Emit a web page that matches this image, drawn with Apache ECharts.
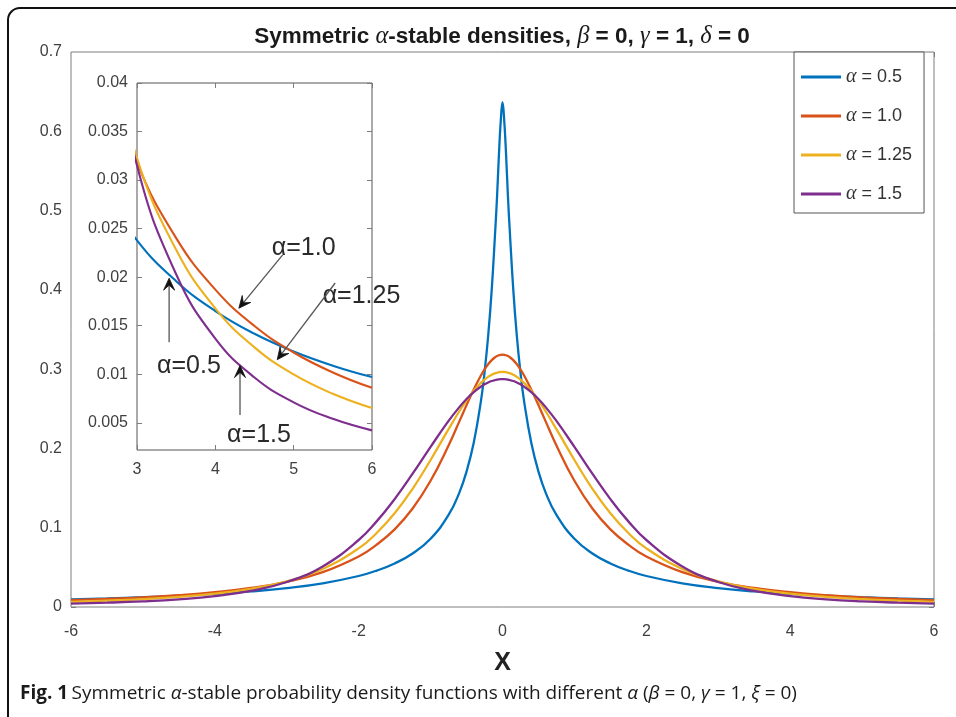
<!DOCTYPE html>
<html>
<head>
<meta charset="utf-8">
<script src="https://cdn.jsdelivr.net/npm/echarts@6/dist/echarts.min.js"></script>
<style>
  html, body { margin: 0; padding: 0; background: #ffffff; }
  #chart { width: 956px; height: 717px; }
</style>
</head>
<body>
<div id="chart"></div>
<script>
// Sample points along x (shared by every density curve)
const X_GRID = [-6, -5.5, -5, -4.5, -4, -3.5, -3, -2.5, -2, -1.75, -1.5, -1.25, -1, -0.75, -0.6, -0.5, -0.4, -0.3, -0.25, -0.2, -0.15, -0.1, -0.075, -0.05, -0.025,
  0, 0.025, 0.05, 0.075, 0.1, 0.15, 0.2, 0.25, 0.3, 0.4, 0.5, 0.6, 0.75, 1, 1.25, 1.5, 1.75, 2, 2.5, 3, 3.5, 4, 4.5, 5, 5.5, 6];

// Density values for each characteristic exponent alpha
const DENSITY_A05 = [0.00971, 0.01089, 0.01235, 0.01417, 0.01651, 0.01959, 0.02380, 0.02985, 0.0391, 0.0459, 0.0549, 0.0675, 0.0861, 0.1161, 0.1443, 0.1708, 0.2071, 0.2597, 0.2957, 0.3412, 0.4000, 0.4765, 0.519, 0.570, 0.612,
  0.6366, 0.612, 0.570, 0.519, 0.4765, 0.4000, 0.3412, 0.2957, 0.2597, 0.2071, 0.1708, 0.1443, 0.1161, 0.0861, 0.0675, 0.0549, 0.0459, 0.0391, 0.02985, 0.02380, 0.01959, 0.01651, 0.01417, 0.01235, 0.01089, 0.00971];
const DENSITY_A10 = [0.00860, 0.01019, 0.01224, 0.01497, 0.01872, 0.02402, 0.03183, 0.04390, 0.0637, 0.0786, 0.0979, 0.1242, 0.1592, 0.2037, 0.2341, 0.2546, 0.2744, 0.2920, 0.2996, 0.3061, 0.3113, 0.3152, 0.3165, 0.3175, 0.3181,
  0.3183, 0.3181, 0.3175, 0.3165, 0.3152, 0.3113, 0.3061, 0.2996, 0.2920, 0.2744, 0.2546, 0.2341, 0.2037, 0.1592, 0.1242, 0.0979, 0.0786, 0.0637, 0.04390, 0.03183, 0.02402, 0.01872, 0.01497, 0.01224, 0.01019, 0.00860];
const DENSITY_A125 = [0.00652, 0.00799, 0.00998, 0.01277, 0.01679, 0.02282, 0.03227, 0.04801, 0.0739, 0.0933, 0.1182, 0.1491, 0.1854, 0.2243, 0.2469, 0.2606, 0.2727, 0.2827, 0.2868, 0.2902, 0.2929, 0.2950, 0.2956, 0.2961, 0.2964,
  0.2965, 0.2964, 0.2961, 0.2956, 0.2950, 0.2929, 0.2902, 0.2868, 0.2827, 0.2727, 0.2606, 0.2469, 0.2243, 0.1854, 0.1491, 0.1182, 0.0933, 0.0739, 0.04801, 0.03227, 0.02282, 0.01679, 0.01277, 0.00998, 0.00799, 0.00652];
const DENSITY_A15 = [0.00422, 0.00541, 0.00711, 0.00967, 0.01367, 0.02030, 0.03150, 0.05115, 0.0845, 0.1080, 0.1361, 0.1681, 0.2020, 0.2347, 0.2521, 0.2623, 0.2710, 0.2780, 0.2808, 0.2831, 0.2850, 0.2863, 0.2868, 0.2871, 0.2873,
  0.2874, 0.2873, 0.2871, 0.2868, 0.2863, 0.2850, 0.2831, 0.2808, 0.2780, 0.2710, 0.2623, 0.2521, 0.2347, 0.2020, 0.1681, 0.1361, 0.1080, 0.0845, 0.05115, 0.03150, 0.02030, 0.01367, 0.00967, 0.00711, 0.00541, 0.00422];

const SERIES_NAMES = ['α = 0.5', 'α = 1.0', 'α = 1.25', 'α = 1.5'];
const SERIES_VALUES = [DENSITY_A05, DENSITY_A10, DENSITY_A125, DENSITY_A15];
const SERIES_COLORS = ['#0072BD', '#D95319', '#EDB120', '#7E2F8E'];

// Axis ticks
const MAIN_X_TICKS = { min: -6, max: 6, interval: 2 };
const MAIN_Y_TICKS = { min: 0, max: 0.7, interval: 0.1 };
const INSET_X_TICKS = { min: 3, max: 6, interval: 1 };
const INSET_Y_MIN = 0.0022;
const INSET_Y_MAX = 0.04;
const INSET_Y_TICKS = [0.005, 0.01, 0.015, 0.02, 0.025, 0.03, 0.035, 0.04];

// Inset annotations (in inset data coordinates)
const NOTE_LABELS = [
  { text: 'α=1.0', at: [4.72, 0.0230] },
  { text: 'α=1.25', at: [5.37, 0.0180] },
  { text: 'α=0.5', at: [3.255, 0.0108] },
  { text: 'α=1.5', at: [4.15, 0.0037] }
];
const NOTE_ARROWS = [
  { from: [4.86, 0.0223], to: [4.30, 0.0168] },
  { from: [5.53, 0.0194], to: [4.79, 0.0115] },
  { from: [3.41, 0.0133], to: [3.41, 0.0199] },
  { from: [4.315, 0.0058], to: [4.315, 0.0109] }
];

const SANS = '"Liberation Sans", Arial, Helvetica, sans-serif';
const SERIF = '"Liberation Serif", "DejaVu Serif", serif';
const CAPTION_FONT = '"Open Sans", Lato, sans-serif';
const AXIS_COLOR = '#7d7d7d';
const LABEL_COLOR = '#404040';

const chart = echarts.init(document.getElementById('chart'), null, { renderer: 'canvas' });

function pairs(values, minX) {
  return X_GRID.map((x, i) => [x, values[i]]).filter(p => p[0] >= minX);
}

function tickAxis(extra) {
  return Object.assign({
    type: 'value',
    axisLine: { show: false, onZero: false },
    axisTick: { show: true, inside: true, length: 5, lineStyle: { color: AXIS_COLOR, width: 1 } },
    splitLine: { show: false },
    axisLabel: { show: false }
  }, extra);
}

const labelStyle = { show: true, color: LABEL_COLOR, fontFamily: SANS, fontSize: 16 };

function curve(name, i, xIdx, yIdx, minX, width, z) {
  return {
    name: name,
    type: 'line',
    xAxisIndex: xIdx,
    yAxisIndex: yIdx,
    data: pairs(SERIES_VALUES[i], minX),
    showSymbol: false,
    symbol: 'none',
    smooth: 0.45,
    clip: true,
    lineStyle: { color: SERIES_COLORS[i], width: width },
    itemStyle: { color: SERIES_COLORS[i] },
    z: z
  };
}

const mainSeries = SERIES_NAMES.map((name, i) => curve(name, i, 0, 0, -6, 2.3, 3));
const insetSeries = SERIES_NAMES.map((name, i) => curve(name, i, 2, 2, 2.5, 2.1, 6));

const option = {
  animation: false,
  backgroundColor: '#ffffff',
  grid: [
    { left: 71, top: 52, width: 863, height: 555, show: true, borderColor: AXIS_COLOR, borderWidth: 1, backgroundColor: '#ffffff', z: 1 },
    { left: 137, top: 83, width: 235, height: 367, show: true, borderColor: '#555555', borderWidth: 1, backgroundColor: '#ffffff', z: 5 }
  ],
  xAxis: [
    tickAxis(Object.assign({ gridIndex: 0, position: 'bottom',
      axisLabel: Object.assign({ margin: 17 }, labelStyle),
      name: 'X', nameLocation: 'middle', nameGap: 44,
      nameTextStyle: { fontFamily: SANS, fontSize: 25, fontWeight: 'bold', color: '#222222' } }, MAIN_X_TICKS)),
    tickAxis(Object.assign({ gridIndex: 0, position: 'top' }, MAIN_X_TICKS)),
    tickAxis(Object.assign({ gridIndex: 1, position: 'bottom', z: 6,
      axisLabel: Object.assign({ margin: 12 }, labelStyle) }, INSET_X_TICKS)),
    tickAxis(Object.assign({ gridIndex: 1, position: 'top', z: 6 }, INSET_X_TICKS))
  ],
  yAxis: [
    tickAxis(Object.assign({ gridIndex: 0, position: 'left',
      axisLabel: Object.assign({ margin: 9 }, labelStyle) }, MAIN_Y_TICKS)),
    tickAxis(Object.assign({ gridIndex: 0, position: 'right' }, MAIN_Y_TICKS)),
    tickAxis({ gridIndex: 1, position: 'left', min: INSET_Y_MIN, max: INSET_Y_MAX, z: 6,
      axisTick: { show: true, inside: true, length: 5, customValues: INSET_Y_TICKS, lineStyle: { color: AXIS_COLOR } },
      axisLabel: Object.assign({ margin: 9, customValues: INSET_Y_TICKS,
        formatter: v => String(+(+v).toFixed(3)) }, labelStyle) }),
    tickAxis({ gridIndex: 1, position: 'right', min: INSET_Y_MIN, max: INSET_Y_MAX, z: 6,
      axisTick: { show: true, inside: true, length: 5, customValues: INSET_Y_TICKS, lineStyle: { color: AXIS_COLOR } } })
  ],
  legend: {
    data: SERIES_NAMES,
    orient: 'vertical',
    left: 794,
    top: 52,
    padding: [15, 12, 9, 7],
    itemGap: 19,
    itemWidth: 40,
    itemHeight: 3,
    itemTextGap: 5,
    icon: 'rect',
    backgroundColor: '#ffffff',
    borderColor: '#555555',
    borderWidth: 1,
    borderRadius: 0,
    selectedMode: false,
    formatter: name => '{g|α}{t|' + name.slice(1) + '}',
    textStyle: {
      color: '#333333',
      fontFamily: SANS,
      fontSize: 18,
      lineHeight: 18,
      rich: {
        g: { fontFamily: SERIF, fontStyle: 'italic', fontSize: 20, color: '#333333', lineHeight: 18 },
        t: { fontFamily: SANS, fontSize: 18, color: '#333333', lineHeight: 18 }
      }
    },
    z: 8
  },
  series: mainSeries.concat(insetSeries)
};

chart.setOption(option);

// Static texts, figure frame and inset annotations
function buildGraphics() {
  const els = [];
  els.push({
    type: 'rect', z: 20, silent: true,
    shape: { x: 8, y: 8, width: 990, height: 740, r: 12 },
    style: { fill: 'none', stroke: '#111111', lineWidth: 2 }
  });
  els.push({
    type: 'text', z: 20, silent: true, x: 502, y: 37,
    style: {
      text: '{b|Symmetric }{g|α}{b|-stable densities, }{g|β}{b| = 0, }{g|γ}{b| = 1, }{g|δ}{b| = 0}',
      align: 'center', verticalAlign: 'middle',
      rich: {
        b: { fontFamily: SANS, fontWeight: 'bold', fontSize: 22.5, fill: '#1a1a1a' },
        g: { fontFamily: SERIF, fontStyle: 'italic', fontSize: 24.5, fill: '#1a1a1a' }
      }
    }
  });
  els.push({
    type: 'text', z: 20, silent: true, x: 20, y: 694,
    style: {
      text: '{fb|Fig. 1} {f|Symmetric }{fi|α}{f|-stable probability density functions with different }{fi|α}{f| (}{fi|β}{f| = 0, }{fi|γ}{f| = 1, }{fi|ξ}{f| = 0)}',
      align: 'left', verticalAlign: 'middle',
      rich: {
        fb: { fontFamily: CAPTION_FONT, fontWeight: 'bold', fontSize: 19, fill: '#1a1a1a' },
        f: { fontFamily: CAPTION_FONT, fontSize: 19, fill: '#1a1a1a' },
        fi: { fontFamily: CAPTION_FONT, fontStyle: 'italic', fontSize: 19, fill: '#1a1a1a' }
      }
    }
  });

  NOTE_LABELS.forEach(n => {
    const p = chart.convertToPixel({ gridIndex: 1 }, n.at);
    els.push({
      type: 'text', z: 30, silent: true, x: p[0], y: p[1],
      style: { text: n.text, align: 'left', verticalAlign: 'middle', fontFamily: SANS, fontSize: 25, fill: '#2a2a2a' }
    });
  });

  NOTE_ARROWS.forEach(a => {
    const p0 = chart.convertToPixel({ gridIndex: 1 }, a.from);
    const p1 = chart.convertToPixel({ gridIndex: 1 }, a.to);
    const dx = p1[0] - p0[0], dy = p1[1] - p0[1];
    const len = Math.hypot(dx, dy);
    const ux = dx / len, uy = dy / len;
    const nx = -uy, ny = ux;
    const L = 12, W = 5.5, notch = 7;
    const back = [p1[0] - ux * L, p1[1] - uy * L];
    const notchPt = [p1[0] - ux * notch, p1[1] - uy * notch];
    els.push({
      type: 'line', z: 30, silent: true,
      shape: { x1: p0[0], y1: p0[1], x2: notchPt[0], y2: notchPt[1] },
      style: { stroke: '#555555', lineWidth: 1.3 }
    });
    els.push({
      type: 'polygon', z: 30, silent: true,
      shape: { points: [p1, [back[0] + nx * W, back[1] + ny * W], notchPt, [back[0] - nx * W, back[1] - ny * W]] },
      style: { fill: '#111111', stroke: '#111111', lineWidth: 0.8 }
    });
  });
  return els;
}

chart.setOption({ graphic: buildGraphics() });
</script>
</body>
</html>
